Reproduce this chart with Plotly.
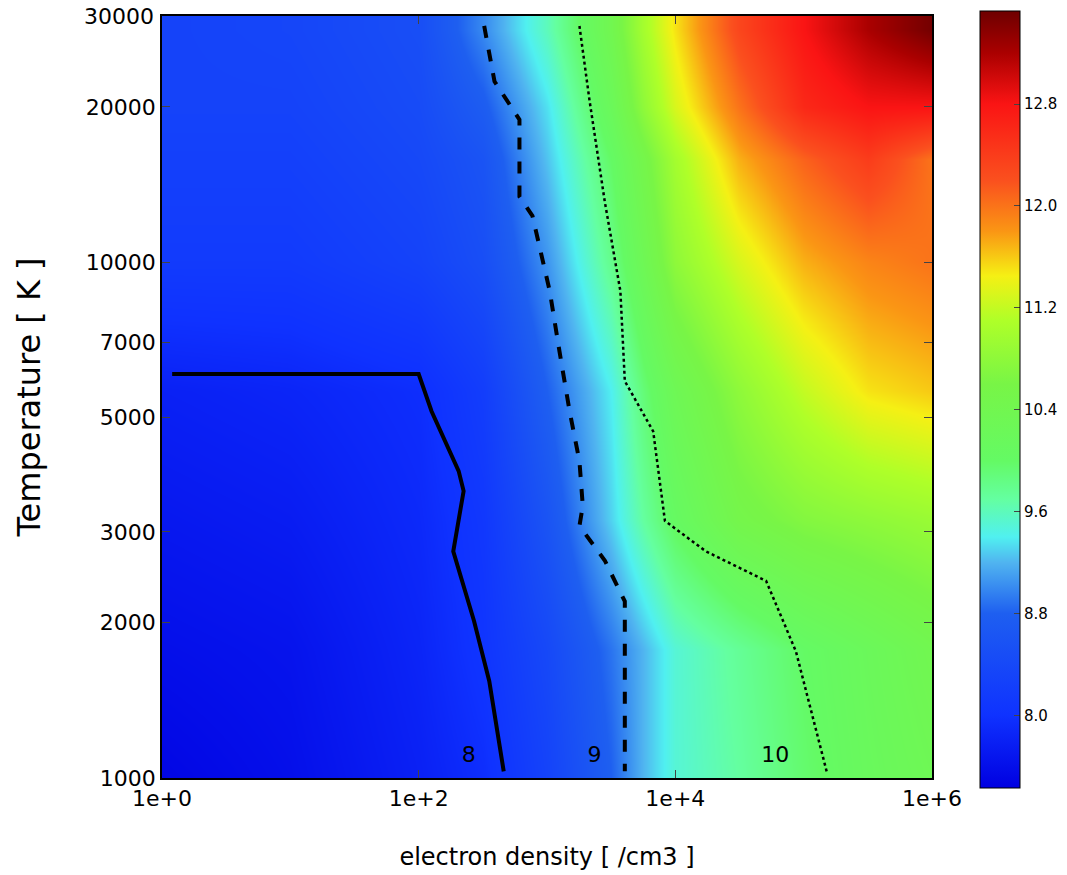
import numpy as np
import plotly.graph_objects as go

log_n = [0, 1, 2, 2.5, 3, 3.5, 3.75, 4, 4.5, 5, 5.5, 6]
log_T = [3.0, 3.25, 3.5, 3.75, 4.0, 4.2, 4.3, 4.45]
z = [
    [7.50, 7.60, 7.80, 7.95, 8.30, 8.80, 9.20, 9.50, 9.70, 9.95, 10.15, 10.30],
    [7.60, 7.65, 7.85, 8.05, 8.40, 8.90, 9.20, 9.50, 9.75, 10.00, 10.20, 10.40],
    [7.70, 7.75, 7.90, 8.10, 8.60, 9.30, 9.70, 10.05, 10.50, 10.70, 10.80, 10.90],
    [7.80, 7.85, 7.95, 8.20, 8.80, 9.40, 9.90, 10.30, 10.80, 11.20, 11.50, 11.60],
    [8.15, 8.15, 8.30, 8.50, 9.05, 9.80, 10.30, 10.80, 11.30, 11.70, 11.90, 12.00],
    [8.25, 8.25, 8.40, 8.60, 9.25, 10.00, 10.50, 11.00, 11.70, 12.10, 12.40, 12.00],
    [8.30, 8.30, 8.45, 8.75, 9.35, 10.20, 10.80, 11.30, 12.00, 12.60, 12.80, 12.80],
    [8.30, 8.35, 8.50, 9.00, 9.60, 10.40, 11.00, 11.50, 12.30, 12.80, 13.20, 13.50],
]

c8_n = [1.2, 100, 126, 205, 224, 186, 270, 355, 460]
c8_T = [6070, 6070, 5140, 3935, 3600, 2750, 2015, 1540, 1030]
c9_n = [324, 390, 610, 610, 770, 1050, 1250, 1500, 1790, 1900, 1790, 2820, 4040, 4040]
c9_T = [28700, 22400, 18900, 13400, 12300, 8790, 6720, 5140, 4110, 3370, 3080, 2640, 2200, 1030]
c10_n = [1790, 2150, 2820, 3730, 4040, 6720, 8300, 17300, 51000, 87000, 151000]
c10_T = [28700, 20500, 13100, 8790, 5880, 4700, 3150, 2750, 2410, 1760, 1030]

label_text = ["8", "9", "10"]
label_n = [246, 2340, 60000]
label_T = [1100, 1100, 1100]

x_tickvals = [1, 1e2, 1e4, 1e6]
x_ticktext = ["1e+0", "1e+2", "1e+4", "1e+6"]
y_tickvals = [1000, 2000, 3000, 5000, 7000, 10000, 20000, 30000]
cb_ticks = [8.0, 8.8, 9.6, 10.4, 11.2, 12.0, 12.8]

zmin, zmax = 7.43, 13.53
def p(v):
    return (v - zmin) / (zmax - zmin)
cs = [
    [0.0, "rgb(0,0,225)"], [p(8.0), "rgb(15,50,255)"], [p(8.8), "rgb(30,95,240)"],
    [p(9.2), "rgb(80,180,240)"], [p(9.4), "rgb(80,240,240)"], [p(9.7), "rgb(100,255,160)"],
    [p(10.0), "rgb(100,250,100)"], [p(10.6), "rgb(120,245,70)"], [p(11.1), "rgb(175,255,40)"],
    [p(11.45), "rgb(245,240,20)"], [p(11.8), "rgb(250,150,20)"], [p(12.2), "rgb(250,80,30)"],
    [p(12.8), "rgb(250,20,20)"], [p(13.2), "rgb(170,0,0)"], [1.0, "rgb(110,0,0)"],
]

font = "DejaVu Sans"
fig = go.Figure()
fig.add_trace(go.Heatmap(
    x=log_n, y=log_T, z=z, zsmooth="best", colorscale=cs, zmin=zmin, zmax=zmax,
    colorbar=dict(x=1.0623, xanchor="left", xpad=0, ypad=0, thickness=40,
                  lenmode="pixels", len=777, y=0.4967, yanchor="middle", tickvals=cb_ticks,
                  ticktext=[f"{v:.1f}" for v in cb_ticks], ticks="inside", ticklen=6,
                  tickfont=dict(size=15, family=font, color="black"),
                  outlinewidth=1, outlinecolor="black"),
))
fig.add_trace(go.Scatter(x=np.log10(c8_n), y=np.log10(c8_T), mode="lines",
                         line=dict(color="black", width=4), showlegend=False))
fig.add_trace(go.Scatter(x=np.log10(c9_n), y=np.log10(c9_T), mode="lines",
                         line=dict(color="black", width=4, dash="dash"), showlegend=False))
fig.add_trace(go.Scatter(x=np.log10(c10_n), y=np.log10(c10_T), mode="lines",
                         line=dict(color="black", width=2.5, dash="dot"), showlegend=False))
fig.add_trace(go.Scatter(x=np.log10(label_n), y=np.log10(label_T), mode="text",
                         text=label_text, textfont=dict(size=22, family=font, color="black"),
                         showlegend=False))

fig.update_layout(
    width=1067, height=875, margin=dict(l=154, r=143, t=8, b=105, autoexpand=False),
    plot_bgcolor="white", paper_bgcolor="white",
    xaxis=dict(range=[-1e-4, 6 + 1e-4], tickvals=np.log10(x_tickvals), ticktext=x_ticktext,
               ticks="inside", ticklen=8, mirror="ticks", showline=True, linecolor="black",
               linewidth=1.5, showgrid=False, zeroline=False,
               tickfont=dict(size=22, family=font, color="black"),
               title=dict(text="electron density [ /cm3 ]", standoff=38,
                          font=dict(size=24, family=font, color="black"))),
    yaxis=dict(range=[3 - 1e-4, np.log10(30000) + 1e-4], tickvals=np.log10(y_tickvals),
               ticktext=[str(v) for v in y_tickvals],
               ticks="inside", ticklen=8, mirror="ticks", showline=True, linecolor="black",
               linewidth=1.5, showgrid=False, zeroline=False,
               tickfont=dict(size=22, family=font, color="black"),
               title=dict(text="Temperature [ K ]", standoff=36,
                          font=dict(size=32, family=font, color="black"))),
)
fig.add_annotation(x=0, xref="paper", xanchor="right", xshift=-6,
                   y=np.log10(y_tickvals[-1]), yref="y", yanchor="middle",
                   text=str(y_tickvals[-1]), showarrow=False,
                   font=dict(size=22, family=font, color="black"))
fig.write_html("out.html")
